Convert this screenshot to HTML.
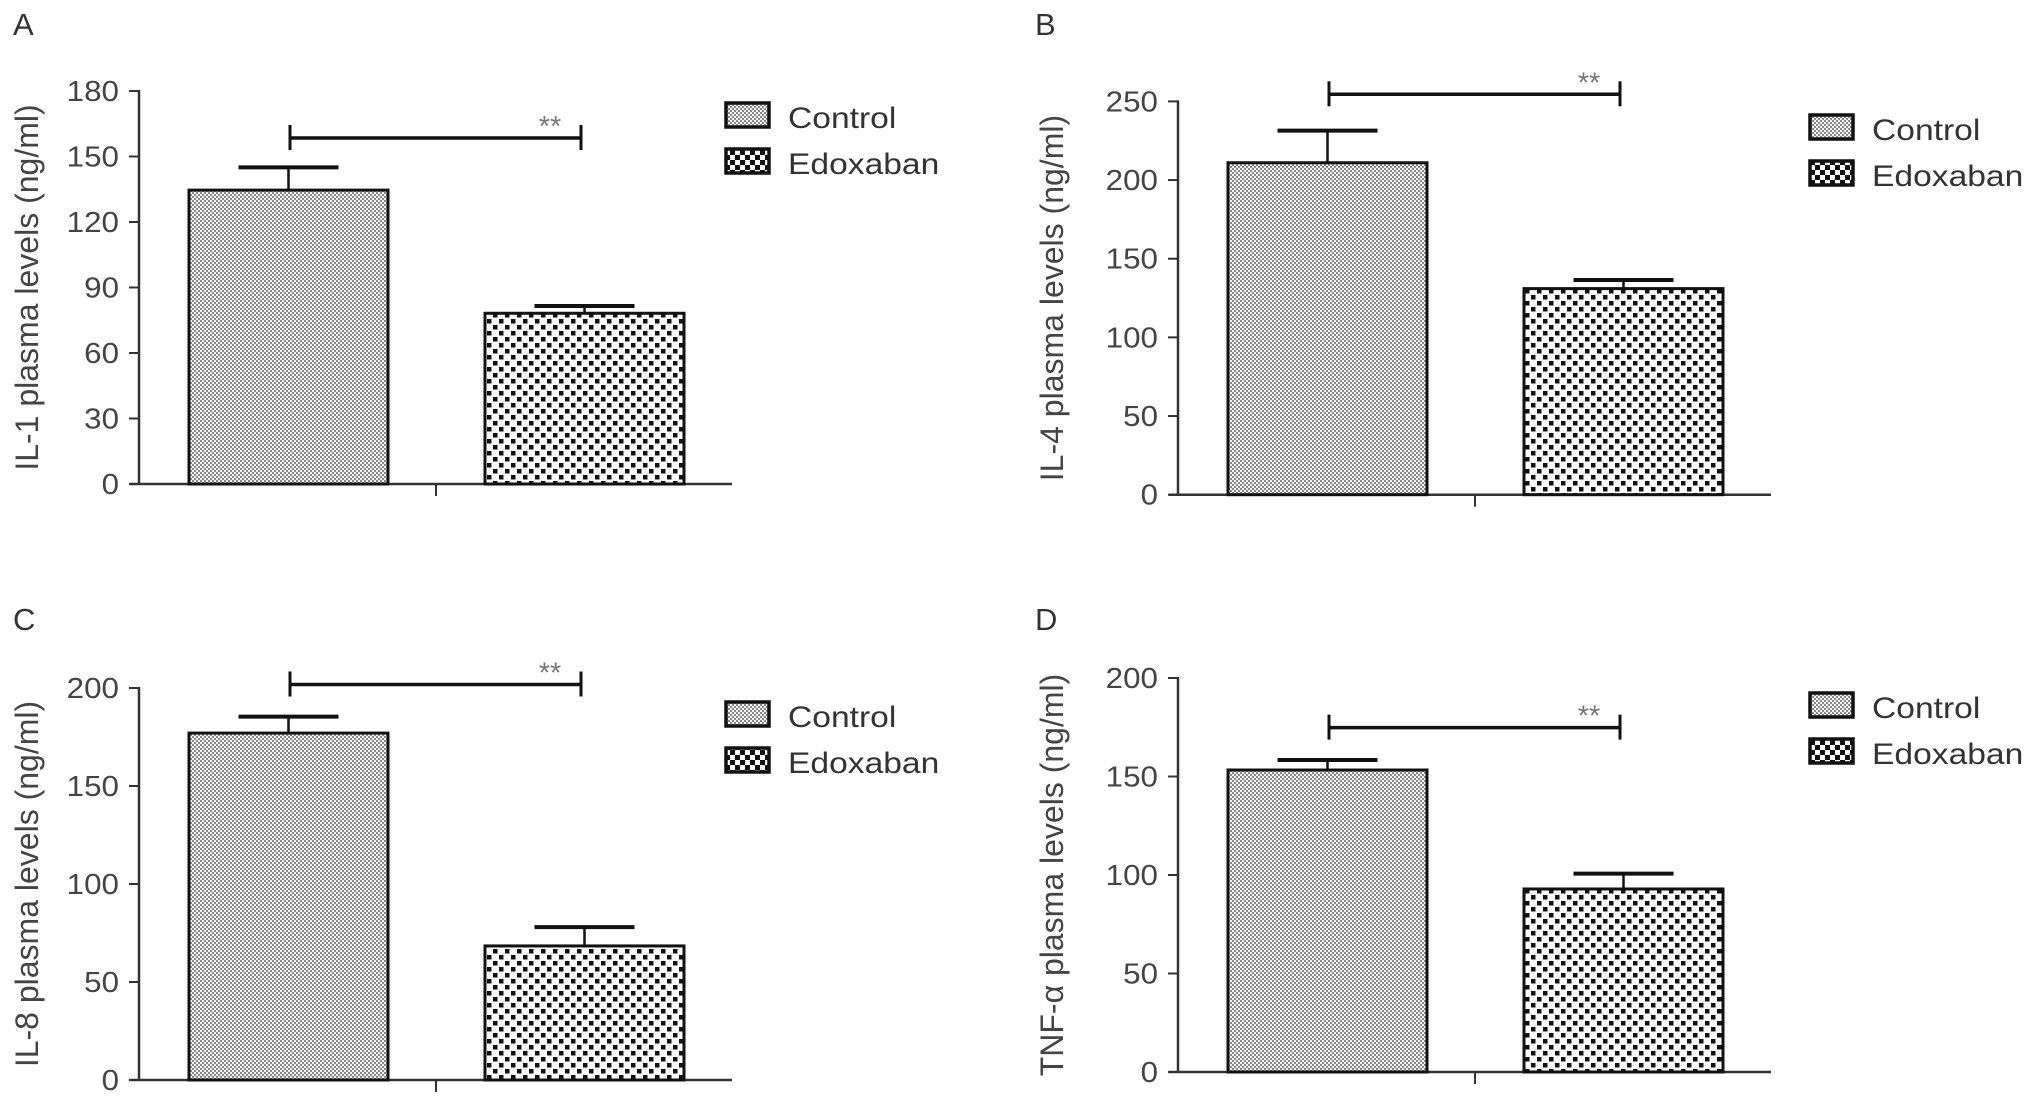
<!DOCTYPE html>
<html>
<head>
<meta charset="utf-8">
<style>
  html, body { margin: 0; padding: 0; background: #fff; }
  svg { display: block; }
  text { font-family: "Liberation Sans", sans-serif; }
</style>
</head>
<body>
<svg id="fig" width="2031" height="1104" viewBox="0 0 2031 1104" xmlns="http://www.w3.org/2000/svg">
  <defs>
    <pattern id="patCtrl" width="4" height="4" patternUnits="userSpaceOnUse">
      <rect width="4" height="4" fill="#f2f2f2"/>
      <rect x="0" y="0" width="2" height="2" fill="#8a8a8a"/>
      <rect x="2" y="2" width="2" height="2" fill="#8a8a8a"/>
    </pattern>
    <pattern id="patEdox" width="12" height="12" patternUnits="userSpaceOnUse">
      <rect width="12" height="12" fill="#fff"/>
      <rect x="1" y="1" width="4.5" height="4.5" fill="#111"/>
      <rect x="7" y="7" width="4.5" height="4.5" fill="#111"/>
    </pattern>
    <pattern id="patEdoxLeg" width="10" height="10" patternUnits="userSpaceOnUse">
      <rect width="10" height="10" fill="#fff"/>
      <rect x="0" y="0" width="5" height="5" fill="#111"/>
      <rect x="5" y="5" width="5" height="5" fill="#111"/>
    </pattern>
  </defs>
</svg>
<script>
// ---- data ----
const panelLetters = ["A", "B", "C", "D"];
const groups = ["Control", "Edoxaban"];
const yTitles = ["IL-1 plasma levels (ng/ml)", "IL-4 plasma levels (ng/ml)", "IL-8 plasma levels (ng/ml)", "TNF-\u03b1 plasma levels (ng/ml)"];
const yMaxes = [180, 250, 200, 200];
const tickStepsA = [0, 30, 60, 90, 120, 150, 180];
const tickStepsB = [0, 50, 100, 150, 200, 250];
const tickStepsC = [0, 50, 100, 150, 200];
const tickStepsD = [0, 50, 100, 150, 200];
const controlMeans = [134.6, 211, 177, 153.3];
const edoxabanMeans = [78.2, 131, 68.4, 92.9];
const controlErrors = [10.4, 20.4, 8.4, 5.1];
const edoxabanErrors = [3.3, 5.5, 9.6, 7.8];
const sigLabels = ["**", "**", "**", "**"];

// ---- layout (geometry only) ----
const layouts = [
  { ax: 139, top: 91, bot: 484, dx: 0, titleX: 38, labX: 13, labY: 35, sigY: 138, legY: 103 },
  { ax: 1178, top: 101.4, bot: 494.7, dx: 1039, titleX: 1063, labX: 1035, labY: 35, sigY: 94.3, legY: 115 },
  { ax: 139, top: 688, bot: 1080, dx: 0, titleX: 38, labX: 13, labY: 630, sigY: 684.5, legY: 702 },
  { ax: 1178, top: 678, bot: 1072, dx: 1039, titleX: 1063, labX: 1035, labY: 630, sigY: 727.6, legY: 693 }
];
const tickSets = [tickStepsA, tickStepsB, tickStepsC, tickStepsD];
const NS = "http://www.w3.org/2000/svg";
const svg = document.getElementById("fig");

function mk(tag, attrs, parent) {
  const e = document.createElementNS(NS, tag);
  for (const k in attrs) e.setAttribute(k, attrs[k]);
  parent.appendChild(e);
  return e;
}
function stretch(t, f) {
  const L = t.getComputedTextLength();
  t.setAttribute("textLength", (L * f).toFixed(1));
  t.setAttribute("lengthAdjust", "spacingAndGlyphs");
}

layouts.forEach((L, i) => {
  const g = mk("g", {}, svg);
  
  
  const yScale = v => L.bot - (v / yMaxes[i]) * (L.bot - L.top);
  const dx = L.dx;
  const barX = [189 + dx, 485 + dx];
  const barW = 199;

  const lab = mk("text", { x: L.labX, y: L.labY, "font-size": 31, fill: "#333" }, g);
  lab.textContent = panelLetters[i];
  
  

  const yAxis = mk("line", { x1: L.ax, y1: L.top - 1, x2: L.ax, y2: L.bot, stroke: "#333", "stroke-width": 2.5 }, g);
  
  
  tickSets[i].forEach(v => {
    const y = yScale(v);
    const tk = mk("line", { x1: L.ax - 10, y1: y, x2: L.ax, y2: y, stroke: "#333", "stroke-width": 2 }, g);
    
    
    const t = mk("text", { x: L.ax - 20, y: y + 10, "font-size": 29, fill: "#444", "text-anchor": "end" }, g);
    t.textContent = v;
    
    
    stretch(t, 1.08);
  });
  const xAxis = mk("line", { x1: L.ax - 9, y1: L.bot, x2: 732 + dx, y2: L.bot, stroke: "#333", "stroke-width": 2.5 }, g);
  
  
  const xt = mk("line", { x1: 436 + dx, y1: L.bot, x2: 436 + dx, y2: L.bot + 12, stroke: "#333", "stroke-width": 2 }, g);
  
  

  const cy = (L.top + L.bot) / 2;
  const yt = mk("text", { x: L.titleX, y: cy, "font-size": 32, fill: "#444", "text-anchor": "middle", transform: `rotate(-90 ${L.titleX} ${cy})` }, g);
  yt.textContent = yTitles[i];
  
  

  const means = [controlMeans[i], edoxabanMeans[i]];
  const errs = [controlErrors[i], edoxabanErrors[i]];
  const fills = ["url(#patCtrl)", "url(#patEdox)"];
  means.forEach((m, j) => {
    const yTop = yScale(m);
    const cx = barX[j] + barW / 2;
    const yErr = yScale(m + errs[j]);
    const stem = mk("line", { x1: cx, y1: yTop, x2: cx, y2: yErr, stroke: "#111", "stroke-width": 2.5 }, g);
    
    
    const cap = mk("line", { x1: cx - 50, y1: yErr, x2: cx + 50, y2: yErr, stroke: "#111", "stroke-width": 4 }, g);
    
    
    const r = mk("rect", { x: barX[j], y: yTop, width: barW, height: L.bot - yTop, fill: fills[j], stroke: "#111", "stroke-width": 3 }, g);
    
    
  });

  const sx1 = 290 + dx, sx2 = 581 + dx;
  const sg = mk("g", {}, g);
  
  
  mk("line", { x1: sx1, y1: L.sigY, x2: sx2, y2: L.sigY, stroke: "#111", "stroke-width": 3.5 }, sg);
  mk("line", { x1: sx1, y1: L.sigY - 13, x2: sx1, y2: L.sigY + 12, stroke: "#111", "stroke-width": 3 }, sg);
  mk("line", { x1: sx2, y1: L.sigY - 13, x2: sx2, y2: L.sigY + 12, stroke: "#111", "stroke-width": 3 }, sg);
  const st = mk("text", { x: sx2 - 31, y: L.sigY - 2, "font-size": 29, fill: "#777", "text-anchor": "middle" }, g);
  st.textContent = sigLabels[i];
  
  

  const lx = (dx ? 1810 : 726);
  const legFills = ["url(#patCtrl)", "url(#patEdoxLeg)"];
  groups.forEach((name, j) => {
    const ly = L.legY + j * 46;
    const lg = mk("g", {}, g);
    
    
    mk("rect", { x: lx, y: ly, width: 43, height: 24, fill: legFills[j], stroke: "#111", "stroke-width": 3.5 }, lg);
    const lt = mk("text", { x: lx + 62, y: ly + 25, "font-size": 30, fill: "#333" }, lg);
    lt.textContent = name;
    stretch(lt, 1.12);
  });
});
</script>
</body>
</html>
